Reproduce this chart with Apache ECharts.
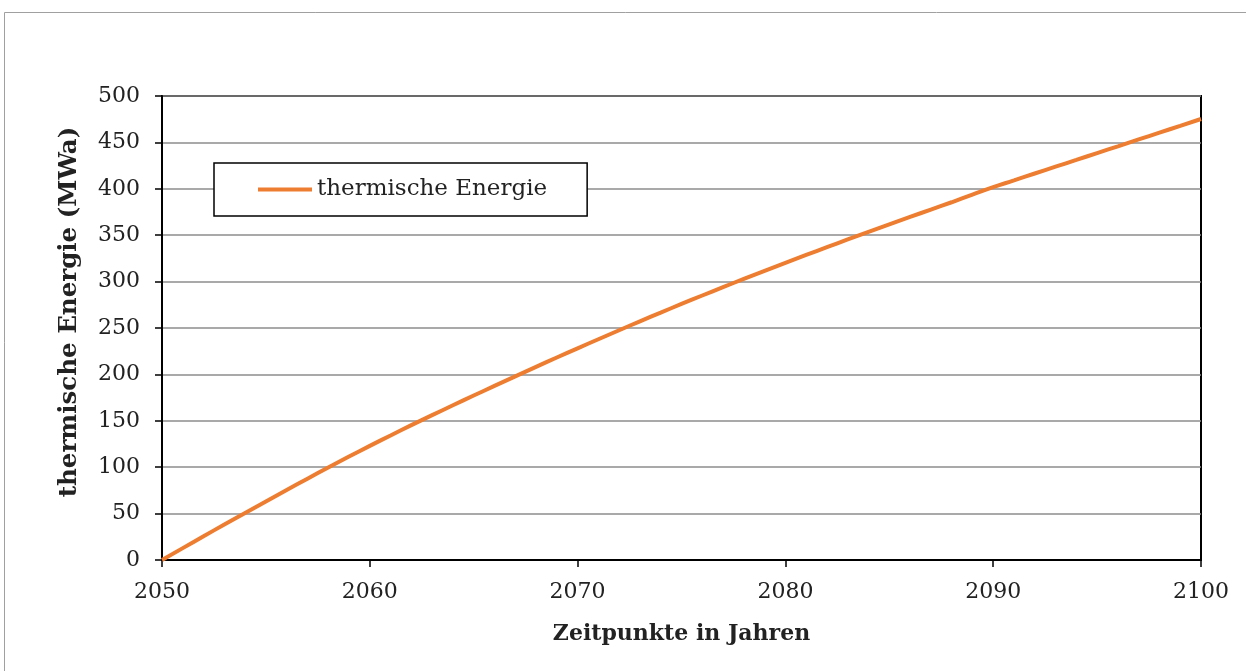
<!DOCTYPE html>
<html>
<head>
<meta charset="utf-8">
<script src="https://cdn.jsdelivr.net/npm/echarts@6/dist/echarts.min.js"></script>
<style>
html,body{margin:0;padding:0;background:#fff;}
#chart{width:1246px;height:671px;}
</style>
</head>
<body>
<div id="chart"></div>
<script>
const seriesName = 'thermische Energie';
const xTitle = 'Zeitpunkte in Jahren';
const yTitle = 'thermische Energie (MWa)';
const years = [2050,2051,2052,2053,2054,2055,2056,2057,2058,2059,2060,2061,2062,2063,2064,2065,2066,2067,2068,2069,2070,2071,2072,2073,2074,2075,2076,2077,2078,2079,2080,2081,2082,2083,2084,2085,2086,2087,2088,2089,2090,2091,2092,2093,2094,2095,2096,2097,2098,2099,2100];
const values = [0,12.8,25.6,38.2,50.7,63.1,75.4,87.6,99.7,111.5,123.0,134.2,145.3,156.1,166.7,177.2,187.6,197.9,208.1,218.2,228.1,237.9,247.6,257.2,266.6,275.9,285.0,294.0,302.9,311.6,320.2,328.7,337.1,345.4,353.6,361.7,369.7,377.6,385.5,393.7,401.8,409.1,416.5,423.8,431.1,438.5,445.8,453.2,460.5,467.8,475.2];

const data = years.map((y, i) => [y, values[i]]);
const font = 'DejaVu Serif';

const chart = echarts.init(document.getElementById('chart'));
chart.setOption({
  animation: false,
  backgroundColor: '#fff',
  graphic: [{
    type: 'rect', left: 2, top: 10, silent: true,
    shape: {width: 1300, height: 700},
    style: {fill: 'none', stroke: '#a0a0a0', lineWidth: 1}
  }, {
    type: 'rect', silent: true, z: 0,
    shape: {x: 162, y: 96, width: 1039, height: 464},
    style: {fill: 'none', stroke: '#000', lineWidth: 2}
  }],
  grid: {left: 162, right: 45, top: 96, bottom: 111, containLabel: false},
  legend: {
    left: 214, top: 163,
    orient: 'horizontal',
    data: [{name: seriesName, icon: 'rect'}],
    itemWidth: 54, itemHeight: 4, itemGap: 4,
    padding: [15, 40, 15, 44],
    borderColor: '#000', borderWidth: 1.5,
    backgroundColor: '#fff',
    textStyle: {fontFamily: font, fontSize: 23, color: '#222', padding: [0,0,0,0]}
  },
  xAxis: {
    type: 'value', min: 2050, max: 2100, interval: 10,
    name: xTitle, nameLocation: 'middle', nameGap: 63,
    nameTextStyle: {fontFamily: font, fontSize: 22, fontWeight: 'bold', color: '#222'},
    axisLine: {show: true, lineStyle: {color: '#000', width: 2}},
    axisTick: {show: true, inside: false, length: 7, lineStyle: {color: '#000', width: 1.5}},
    axisLabel: {fontFamily: font, fontSize: 22, color: '#222', margin: 21, formatter: v => String(v)},
    splitLine: {show: false}
  },
  yAxis: {
    type: 'value', min: 0, max: 500, interval: 50,
    name: yTitle, nameLocation: 'middle', nameGap: 80, nameRotate: 90,
    nameTextStyle: {fontFamily: font, fontSize: 24.5, fontWeight: 'bold', color: '#222', padding: [0, 0, 0, 32]},
    axisLine: {show: true, lineStyle: {color: '#000', width: 2}},
    axisTick: {show: true, inside: false, length: 7, lineStyle: {color: '#000', width: 1.5}},
    axisLabel: {fontFamily: font, fontSize: 22, color: '#222', margin: 22},
    splitLine: {show: true, lineStyle: {color: '#8c8c8c', width: 1.5}}
  },
  series: [{
    name: seriesName, type: 'line', data: data,
    showSymbol: false, smooth: true,
    lineStyle: {color: '#ED7D31', width: 4},
    itemStyle: {color: '#ED7D31'}
  }]
});
</script>
</body>
</html>
